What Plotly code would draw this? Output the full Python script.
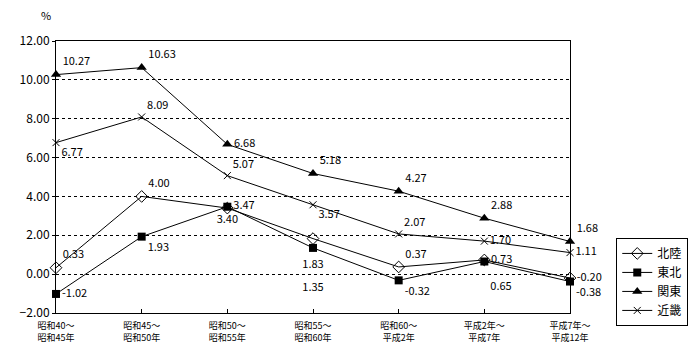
import plotly.graph_objects as go

categories = ["昭和40～<br>昭和45年", "昭和45～<br>昭和50年", "昭和50～<br>昭和55年", "昭和55～<br>昭和60年",
              "昭和60～<br>平成2年", "平成2年～<br>平成7年", "平成7年～<br>平成12年"]
hokuriku = [0.33, 4.00, 3.40, 1.83, 0.37, 0.73, -0.20]
tohoku = [-1.02, 1.93, 3.47, 1.35, -0.32, 0.65, -0.38]
kanto = [10.27, 10.63, 6.68, 5.18, 4.27, 2.88, 1.68]
kinki = [6.77, 8.09, 5.07, 3.57, 2.07, 1.70, 1.11]
y_ticks = [-2, 0, 2, 4, 6, 8, 10, 12]

FONT = "Noto Sans CJK JP"
xs = list(range(len(categories)))

def labels(vals):
    return [f"{v:.2f}" for v in vals]

series = [
    ("北陸", hokuriku, dict(symbol="diamond-open", size=9, color="black", line=dict(width=1, color="black")),
     ["top right", "top right", "bottom center", "bottom center", "top right", "middle right", "middle right"]),
    ("東北", tohoku, dict(symbol="square", size=8, color="black"),
     ["middle right", "bottom right", "middle right", "bottom center", "bottom right", "bottom right", "bottom right"]),
    ("関東", kanto, dict(symbol="triangle-up", size=9, color="black"),
     ["top right", "top right", "middle right", "top right", "top right", "top right", "top right"]),
    ("近畿", kinki, dict(symbol="x-thin", size=7, color="black", line=dict(width=1, color="black")),
     ["bottom right", "top right", "top right", "bottom right", "top right", "middle right", "middle right"]),
]

fig = go.Figure()
for name, vals, marker, pos in series:
    txt = labels(vals)
    if name == "北陸":
        txt[3] = "<br>" + txt[3]
    if name == "東北":
        txt[3] = "<br><br>" + txt[3]
        txt[5] = "<br>" + txt[5]
    fig.add_trace(go.Scatter(
        x=xs, y=vals, name=name, mode="lines+markers+text",
        line=dict(color="black", width=1), marker=marker,
        text=txt, textposition=pos, cliponaxis=False,
        textfont=dict(family=FONT, size=11, color="black"),
    ))

fig.update_layout(
    width=692, height=352, margin=dict(l=44, r=125, t=33, b=47),
    plot_bgcolor="white", paper_bgcolor="white",
    font=dict(family=FONT, color="black"),
    showlegend=True,
    legend=dict(x=1.09, y=0.276, xanchor="left", yanchor="top",
                bordercolor="black", borderwidth=1, bgcolor="white",
                font=dict(family=FONT, size=12), itemwidth=30,
                tracegroupgap=0),
    annotations=[dict(text="%", xref="paper", yref="paper", x=-0.005, y=1.06,
                      xanchor="right", yanchor="bottom", showarrow=False,
                      font=dict(family=FONT, size=11))],
)
fig.update_xaxes(range=[0, 6], tickvals=xs, ticktext=categories,
                 showgrid=False, showline=True, linecolor="black", linewidth=1,
                 mirror=True, ticks="inside", ticklen=4, tickcolor="black",
                 ticklabelstandoff=4,
                 tickfont=dict(family=FONT, size=9), zeroline=False)
fig.update_yaxes(range=[-2, 12], tickvals=y_ticks, tickformat=".2f",
                 showgrid=True, gridcolor="black", griddash="dot", gridwidth=1,
                 showline=True, linecolor="black", linewidth=1, mirror=True,
                 ticks="outside", ticklen=3, tickcolor="black",
                 tickfont=dict(family=FONT, size=12), zeroline=False)
fig.write_html("out.html")
